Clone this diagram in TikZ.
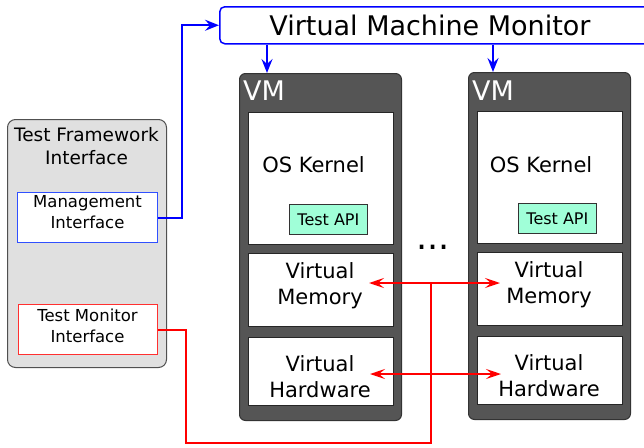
\documentclass[tikz,border=0pt]{standalone}
\usepackage{fontspec}
\setmainfont{DejaVu Sans}
\usetikzlibrary{arrows.meta}
\definecolor{vmgray}{HTML}{555555}
\definecolor{vmedge}{HTML}{333333}
\definecolor{apigreen}{HTML}{A0FFD8}
\definecolor{tfgray}{HTML}{E0E0E0}
\definecolor{tfedge}{HTML}{505050}
\definecolor{mgblue}{HTML}{3050FF}
\definecolor{tmred}{HTML}{FF3030}
\begin{document}
\begin{tikzpicture}[x=1pt,y=-1pt,
  vmbox/.style={draw=vmedge, fill=vmgray, rounded corners=6pt, line width=1pt, minimum width=162pt, minimum height=347pt, anchor=north west, inner sep=0pt},
  part/.style={draw=black!85, fill=white, line width=1pt, anchor=north west, inner sep=0pt, minimum width=145pt},
  api/.style={draw=black!80, fill=apigreen, line width=0.8pt, anchor=north west, minimum width=78pt, minimum height=30pt, inner sep=0pt, font=\fontsize{16}{19}\selectfont},
  lbl/.style={font=\fontsize{21}{26}\selectfont, align=center, inner sep=0pt},
  small/.style={font=\fontsize{16.5}{21}\selectfont, align=center, inner sep=0pt},
  vmlbl/.style={font=\fontsize{27}{30}\selectfont, text=white, anchor=west, inner sep=0pt},
  ifbox/.style={fill=white, line width=1pt, anchor=north west, inner sep=0pt, minimum height=50pt},
  blueline/.style={draw=blue, line width=2pt},
  redline/.style={draw=red, line width=2pt},
  tip/.style={-{Stealth[length=14pt,width=11pt,inset=5pt]}},
  tips/.style={{Stealth[length=15pt,width=10pt,inset=6pt]}-{Stealth[length=15pt,width=10pt,inset=6pt]}}
]
\useasboundingbox (0,0) rectangle (644,447);

% Virtual Machine Monitor
\node[draw=blue, fill=white, line width=1.5pt, rounded corners=5pt, anchor=north west, minimum width=440pt, minimum height=37pt, inner sep=0pt] (vmm) at (219,6) {};
\node[font=\fontsize{27}{30}\selectfont, inner sep=0pt] (vmmtext) at (430,25) {Virtual Machine Monitor};

% Test framework
\node[draw=tfedge, fill=tfgray, line width=1pt, rounded corners=8pt, anchor=north west, minimum width=159pt, minimum height=248pt, inner sep=0pt] (tf) at (7,119) {};
\node[font=\fontsize{18.5}{23}\selectfont, align=center, inner sep=0pt] (tftext) at (86.5,146) {Test Framework\\Interface};
\node[ifbox, draw=mgblue, minimum width=140pt] (mgmt) at (17,192) {};
\node[small] (mgmttext) at (87.5,212) {Management\\Interface};
\node[ifbox, draw=tmred, minimum width=139pt] (tm) at (18,304) {};
\node[small] (tmtext) at (87.5,326) {Test Monitor\\Interface};

% VM 1
\node[vmbox] (vm1) at (239,73) {};
\node[vmlbl] (vm1text) at (243,91) {VM};
\node[part, minimum height=132pt] (os1) at (248,112) {};
\node[lbl] (os1text) at (313.5,165) {OS Kernel};
\node[api] (api1) at (289,204) {Test API};
\node[part, minimum height=73pt] (mem1) at (248,253) {};
\node[lbl] (mem1text) at (320,286) {Virtual\\Memory};
\node[part, minimum height=68pt] (hw1) at (248,337) {};
\node[lbl] (hw1text) at (320,377) {Virtual\\Hardware};

% VM 2
\node[vmbox] (vm2) at (468,72) {};
\node[vmlbl] (vm2text) at (472,91) {VM};
\node[part, minimum height=132pt] (os2) at (477,111) {};
\node[lbl] (os2text) at (541,165) {OS Kernel};
\node[api] (api2) at (518,203) {Test API};
\node[part, minimum height=73pt] (mem2) at (477,252) {};
\node[lbl] (mem2text) at (549,285) {Virtual\\Memory};
\node[part, minimum height=68pt] (hw2) at (477,336) {};
\node[lbl] (hw2text) at (549,376) {Virtual\\Hardware};

% dots
\node[font=\fontsize{35}{40}\selectfont, inner sep=0pt] (dots) at (433,247) {...};

% blue connectors
\coordinate (bx) at (182,0);
\coordinate (a1) at (267,0);
\coordinate (a2) at (493,0);
\draw[blueline, tip] (mgmt.east) -| (bx |- vmm.west) -- (vmm.west);
\draw[blueline, tip] (vmm.south -| a1) -- (vm1.north -| a1);
\draw[blueline, tip] (vmm.south -| a2) -- (vm2.north -| a2);

% red connectors
\coordinate (m1) at (369,283);
\coordinate (m2) at (500,283);
\coordinate (h1) at (370,374);
\coordinate (h2) at (501,374);
\coordinate (hub) at (431,283);
\coordinate (rb) at (186,443);
\draw[redline, line join=miter] (tm.east) -| (rb) -- (hub |- rb) -- (hub);
\draw[redline, tips] (m1) -- (m2);
\draw[redline, tips] (h1) -- (h2);
\end{tikzpicture}
\end{document}
